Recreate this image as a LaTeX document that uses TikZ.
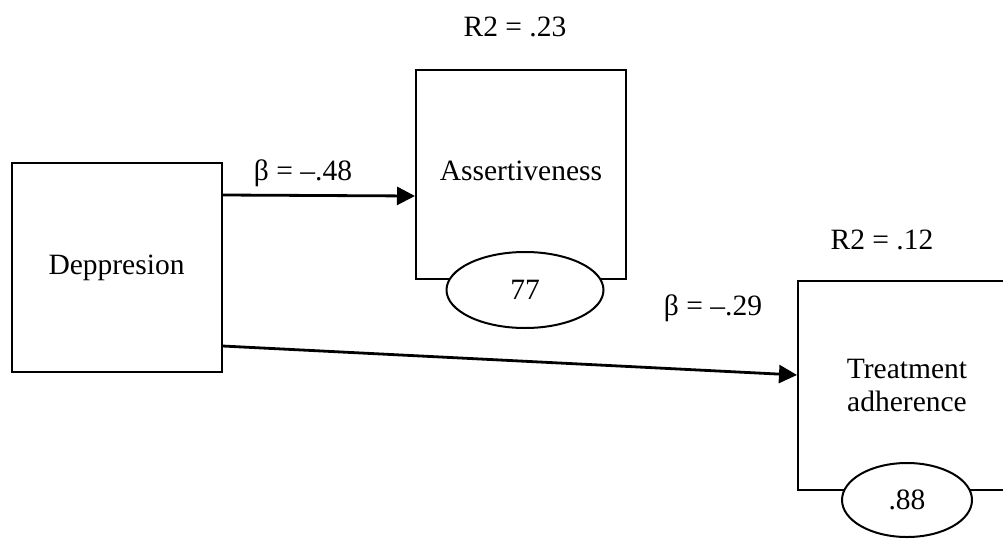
\documentclass[tikz,border=0pt]{standalone}
\usepackage{fontspec}
\setmainfont{Liberation Serif}
\usetikzlibrary{arrows.meta,shapes.geometric}

\begin{document}
\begin{tikzpicture}[x=1pt,y=-1pt,font=\fontsize{29.5}{33}\selectfont,
  var/.style={draw,line width=2pt,inner sep=0pt,minimum width=210pt,minimum height=209pt,align=center},
  err/.style={draw,ellipse,fill=white,line width=2pt,inner sep=0pt},
  path/.style={line width=2.8pt,-{Triangle[length=18pt,width=18pt]}}]
  \useasboundingbox (0,0) rectangle (1003,538);
  \clip (0,0) rectangle (1003,538);

  \node[var] (dep) at (116.5,267.5) {Deppresion};
  \node[var] (asr) at (521,174) {\raisebox{7pt}{Assertiveness}};
  \node[var] (adh) at (903,385) {\hspace*{8pt}Treatment\\\hspace*{8pt}adherence};

  \node[err,minimum width=157pt,minimum height=76pt] (e1) at (525,290) {77};
  \node[err,minimum width=130pt,minimum height=74pt] (e2) at (907,500) {.88};

  \node (r1) at (515,27) {R2 = .23};
  \node (r2) at (882,240) {R2 = .12};
  \node (b1) at (303,173) {β = –.48};
  \node (b2) at (713,308) {β = –.29};

  \draw[path] ([yshift=-33pt]dep.north east) -- ([yshift=-22pt]asr.west);
  \draw[path] ([yshift=27pt]dep.south east) -- ([yshift=10pt]adh.west);
\end{tikzpicture}
\end{document}
